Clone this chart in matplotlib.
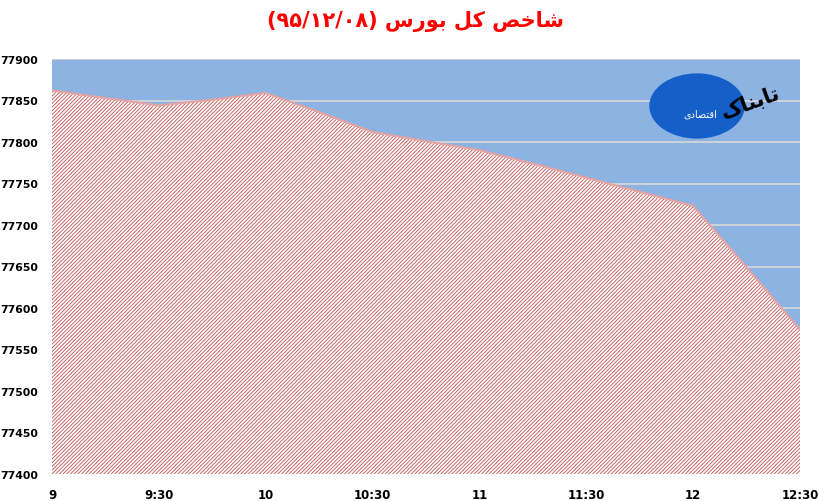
import matplotlib.pyplot as plt
from matplotlib.patches import Ellipse

# index readings every 15 minutes, 9:00 .. 12:30
minutes = [0, 15, 30, 45, 60, 75, 90, 105, 120, 135, 150, 165, 180, 195, 210]
index_vals = [77862, 77853, 77844, 77851, 77859, 77836, 77812, 77801, 77790,
              77774, 77757, 77740, 77723, 77649, 77574]
tick_pos = [0, 30, 60, 90, 120, 150, 180, 210]
tick_labels = ['9', '9:30', '10', '10:30', '11', '11:30', '12', '12:30']

# title "شاخص کل بورس (۹۵/۱۲/۰۸)" in visual (shaped) order
title = ('(\u06f9\u06f5/\u06f1\u06f2/\u06f0\u06f8) '
         '\ufeb1\ufead\ufeee\ufe91 \ufede\ufb90 \ufeba\ufea7\ufe8e\ufeb7')
logo_big = '\ufb8e\ufe8e\ufee8\ufe91\ufe8e\ufe97'          # تابناک
logo_small = '\ufbfc\ufea9\ufe8e\ufebc\ufe98\ufed7\ufe8d'  # اقتصادی

plt.rcParams['hatch.linewidth'] = 0.6

fig = plt.figure(figsize=(8.3, 5.02), dpi=100)
ax = fig.add_axes([52 / 830, 1 - 475 / 502, 748 / 830, 415 / 502])
ax.set_facecolor('#8DB3E2')

ax.fill_between(minutes, index_vals, 77400, facecolor='white',
                edgecolor='#C0504D', hatch='/' * 9, linewidth=0, zorder=2)
ax.plot(minutes, index_vals, color='#E6A3A2', lw=1.5, zorder=3)

ax.set_xlim(0, 210)
ax.set_ylim(77400, 77900)
ax.set_yticks(range(77400, 77901, 50))
ax.set_xticks(tick_pos)
ax.set_xticklabels(tick_labels)
ax.grid(axis='y', color='#D9D9D9', lw=1.2, zorder=1)
ax.set_axisbelow(True)
for s in ax.spines.values():
    s.set_visible(False)
ax.tick_params(length=0)
ax.tick_params(axis='y', pad=10, labelsize=7.8)
ax.tick_params(axis='x', pad=10, labelsize=8.5)
for lab in ax.get_yticklabels() + ax.get_xticklabels():
    lab.set_fontweight('bold')

fig.text(0.5, 1 - 22 / 502, title, color='#FF0000', fontsize=15,
         fontweight='bold', ha='center', va='center', family=['DejaVu Sans'])

# simple stand-in for the logo
logo = Ellipse((697 / 830, 1 - 107 / 502), 0.115, 0.13,
               transform=fig.transFigure, facecolor='#1560C8',
               edgecolor='none', zorder=5)
fig.patches.append(logo)
fig.text(750 / 830, 1 - 103 / 502, logo_big, color='black', fontsize=15,
         fontweight='bold', ha='center', va='center', rotation=20,
         family=['DejaVu Sans'], zorder=6)
fig.text(700 / 830, 1 - 115 / 502, logo_small, color='white', fontsize=7,
         ha='center', va='center', family=['DejaVu Sans'], zorder=6)

fig.savefig('out.png', dpi=100, facecolor='white')
